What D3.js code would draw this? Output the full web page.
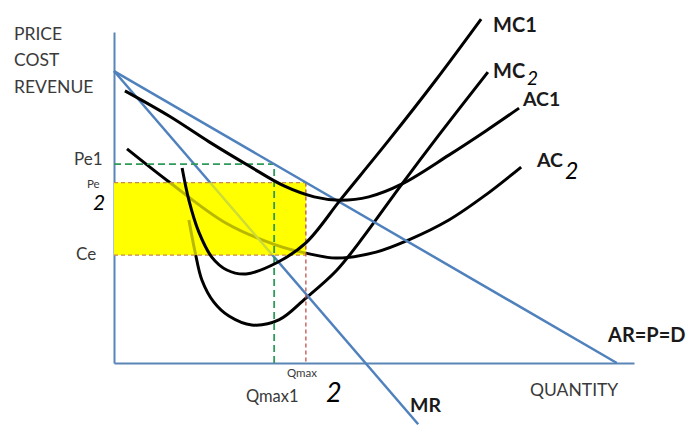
<!DOCTYPE html>
<html><head><meta charset="utf-8">
<script src="https://cdn.jsdelivr.net/npm/d3@7"></script>
<style>body{margin:0;background:#fff}svg{display:block}</style>
</head><body>
<svg id="c" width="689" height="427"></svg>
<script>
// ---- data (Q = quantity units, P = price units) ----
const demandIntercept = 88.2;      // AR=P=D at Q=0
const demandQuantityZero = 96.7;   // AR hits Q axis
const mrEndQ = 58.5;
const ac1Q = [2.1,10.6,18.3,26.0,32.7,38.5,43.3,49.0,55.4,64.4,71.5,77.9];
const ac1P = [82.2,74.6,66.8,59.5,53.5,50.2,49.2,50.2,54.1,62.8,70.1,77.0];
const ac2Q = [2.5,10.6,21.5,31.2,36.9,42.7,50.4,56.7,64.4,71.5,78.3];
const ac2P = [64.7,54.7,42.3,35.6,33.2,31.7,33.5,37.2,43.2,50.8,59.2];
const mc1Q = [13.1,14.4,16.3,18.8,21.7,25.4,31.2,36.9,43.8,52.9,61.9,70.6];
const mc1P = [58.9,49.2,39.6,32.0,28.1,26.9,30.2,36.3,49.8,67.4,85.5,103.9];
const mc2Q = [14.4,15.6,16.9,19.2,22.1,26.5,31.7,36.9,42.7,47.1,55.4,62.5,71.9];
const mc2P = [43.2,33.5,25.1,18.4,14.2,11.5,13.0,19.6,27.8,36.3,54.1,68.9,87.9];
const qmax1 = 30.8, qmax = 36.9;
const pe1 = 60.1, pe = 54.5, ce = 32.6;

const svg = d3.select('#c');
const x = d3.scaleLinear().domain([0,100]).range([114,634]);
const y = d3.scaleLinear().domain([0,100]).range([363,32]);
const BLUE = '#4f81bd', AXIS = '#5a86b6';
const FONT = 'Lato, "Open Sans", sans-serif';

// axes (domain lines only)
svg.append('g').attr('transform',`translate(0,${y(0)})`)
  .call(d3.axisBottom(x).tickValues([]).tickSizeOuter(0))
  .select('.domain').attr('stroke',AXIS).attr('stroke-width',2);
svg.append('g').attr('transform',`translate(${x(0)},0)`)
  .call(d3.axisLeft(y).tickValues([]).tickSizeOuter(0))
  .select('.domain').attr('stroke',AXIS).attr('stroke-width',2);

const line = d3.line().x(d=>x(d[0])).y(d=>y(d[1])).curve(d3.curveCatmullRom.alpha(0.5));
const zip = (a,b)=>a.map((v,i)=>[v,b[i]]);
const straight = d3.line().x(d=>x(d[0])).y(d=>y(d[1]));

const demand = q => demandIntercept*(1-q/demandQuantityZero);
const mr = q => demandIntercept*(1-2*q/demandQuantityZero);

// profit rectangle (opaque base)
const rect = ()=>svg.append('rect').attr('x',x(0)).attr('y',y(pe))
  .attr('width',x(qmax)-x(0)).attr('height',y(ce)-y(pe)).attr('fill','#ffff00');
rect();

// curves beneath the rectangle
svg.append('path').attr('d',line(zip(ac2Q,ac2P))).attr('fill','none').attr('stroke','#000').attr('stroke-width',3);
svg.append('path').attr('d',line(zip(mc2Q,mc2P))).attr('fill','none').attr('stroke','#000').attr('stroke-width',3);
svg.append('path').attr('d',straight([[0,mr(0)],[mrEndQ,mr(mrEndQ)]])).attr('fill','none').attr('stroke',BLUE).attr('stroke-width',2.5);

rect().attr('opacity',0.72);

// dashed guides
const dash = (pts,col,w,da)=>svg.append('path').attr('d',straight(pts)).attr('fill','none')
  .attr('stroke',col).attr('stroke-width',w).attr('stroke-dasharray',da);
dash([[0,pe1],[qmax1,pe1],[qmax1,0]],'#2f9a5a',1.8,'7,4');
dash([[0,pe],[qmax,pe]],'#c58a55',1.3,'4,3');
dash([[0,ce],[qmax,ce]],'#c58a55',1.3,'4,3');
dash([[qmax,pe],[qmax,0]],'#c0504d',1.3,'4,3');

// curves on top
svg.append('path').attr('d',straight([[0,demand(0)],[demandQuantityZero,0]])).attr('fill','none').attr('stroke',BLUE).attr('stroke-width',2.5);
svg.append('path').attr('d',line(zip(ac1Q,ac1P))).attr('fill','none').attr('stroke','#000').attr('stroke-width',3);
svg.append('path').attr('d',line(zip(mc1Q,mc1P))).attr('fill','none').attr('stroke','#000').attr('stroke-width',3);

// labels
const t = (s,px,py,size,weight,col)=>svg.append('text').attr('x',px).attr('y',py).text(s)
    .attr('font-family',FONT).attr('font-size',size).attr('font-weight',weight||400).attr('fill',col||'#3a3a3a');
t('PRICE',14,40,17.5);
t('COST',14,66,17.5);
t('REVENUE',14,93,17.5);
t('Pe1',74,165,17);
t('Pe',87,188,11.5);
t('2',93,210,21,400,'#000').attr('font-style','italic');
t('Ce',76,260,17);
t('Qmax',287,377,11.5);
t('Qmax1',246,402,16.5);
t('2',326,402,27,400,'#000').attr('font-style','italic');
t('MR',410,412,19.5,700,'#1a1a1a');
t('QUANTITY',530,396,17.5);
t('AR=P=D',608,342,20,700,'#1a1a1a');
t('MC1',493,32,20,700,'#1a1a1a');
t('MC',493,78,20,700,'#1a1a1a');
t('2',527,85,19,400,'#000').attr('font-style','italic');
t('AC1',523,106,19.5,700,'#1a1a1a');
t('AC',537,167,19.5,700,'#1a1a1a');
t('2',565,179,23,400,'#000').attr('font-style','italic');
</script>
</body></html>
